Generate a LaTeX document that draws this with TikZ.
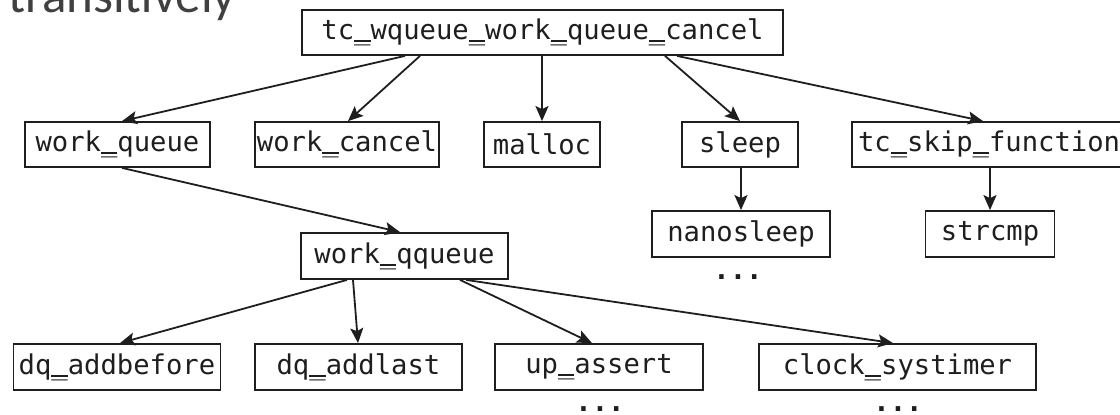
\documentclass[tikz,border=0pt]{standalone}
\usepackage{fontspec}
\usetikzlibrary{arrows.meta}
\newfontfamily\monofam{DejaVu Sans Mono}
\newfontfamily\titlefam{Carlito}
\newcommand{\us}{\rlap{\char"5F}\rule[-0.09em]{0.602em}{0.075em}}
\definecolor{ink}{HTML}{1E1E1E}
\definecolor{titlegray}{HTML}{404040}
\tikzset{
  fnbox/.style={draw=ink, line width=1.8pt, inner sep=0pt, text=ink,
    font=\monofam\fontsize{27.2}{30}\selectfont},
  dotstext/.style={inner sep=0pt, anchor=base, text=ink, text depth=0pt,
    font=\monofam\bfseries\fontsize{27.2}{30}\selectfont},
  call/.style={draw=ink, line width=1.8pt,
    -{Stealth[length=15pt,width=13pt,inset=3pt]}},
}
\begin{document}
\begin{tikzpicture}[x=1pt,y=-1pt]
\useasboundingbox (0,0) rectangle (1120,415);
\node[anchor=base west, inner sep=0pt, text=titlegray,
  font=\titlefam\fontsize{51}{55}\selectfont] (title) at (8,12.7) {transitively};

\node[fnbox, minimum width=481pt, minimum height=45pt] (top) at (542.5,32.5) {tc\us wqueue\us work\us queue\us cancel};

\node[fnbox, minimum width=185pt, minimum height=45pt] (wq) at (117.5,144.5) {work\us queue};
\node[fnbox, minimum width=184pt, minimum height=45pt] (wc) at (347,144.5) {work\us cancel};
\node[fnbox, minimum width=116pt, minimum height=45pt] (malloc) at (542,144.5) {malloc};
\node[fnbox, minimum width=116pt, minimum height=45pt] (sleep) at (740,144.5) {sleep};
\node[fnbox, minimum width=274pt, minimum height=45pt] (skip) at (989,144.5) {tc\us skip\us function};

\node[fnbox, minimum width=178pt, minimum height=46pt] (nano) at (741,234) {nanosleep};
\node[fnbox, minimum width=129pt, minimum height=46pt] (strcmp) at (990,234) {strcmp};

\node[fnbox, minimum width=207pt, minimum height=46pt] (wqq) at (404.5,256) {work\us qqueue};

\node[fnbox, minimum width=207pt, minimum height=46pt] (dqb) at (117,367) {dq\us addbefore};
\node[fnbox, minimum width=207pt, minimum height=46pt] (dql) at (358.5,367) {dq\us addlast};
\node[fnbox, minimum width=208pt, minimum height=46pt] (upa) at (599,367) {up\us assert};
\node[fnbox, minimum width=277pt, minimum height=46pt] (clk) at (897.5,367) {clock\us systimer};

\node[dotstext] (dotsnano) at (738,279) {...};
\node[dotstext] (dotsupa) at (600,411) {...};
\node[dotstext] (dotsclk) at (898,411) {...};

\draw[call] ([xshift=-137.5pt]top.south) -- ([xshift=4.5pt]wq.north);
\draw[call] ([xshift=-122.5pt]top.south) -- ([xshift=1pt]wc.north);
\draw[call] ([xshift=-0.5pt]top.south) -- (malloc.north);
\draw[call] ([xshift=122.5pt]top.south) -- (sleep.north);
\draw[call] ([xshift=134.5pt]top.south) -- ([xshift=-6pt]skip.north);

\draw[call] ([xshift=1pt]sleep.south) -- (nano.north);
\draw[call] ([xshift=1pt]skip.south) -- (strcmp.north);

\draw[call] ([xshift=4.5pt]wq.south) -- ([xshift=-4.5pt]wqq.north);

\draw[call] ([xshift=-57.5pt]wqq.south) -- ([xshift=3pt]dqb.north);
\draw[call] ([xshift=-51.5pt]wqq.south) -- ([xshift=-0.5pt]dql.north);
\draw[call] ([xshift=55.5pt]wqq.south) -- ([xshift=-7pt]upa.north);
\draw[call] ([xshift=61.5pt]wqq.south) -- ([xshift=-4.5pt]clk.north);
\end{tikzpicture}
\end{document}
